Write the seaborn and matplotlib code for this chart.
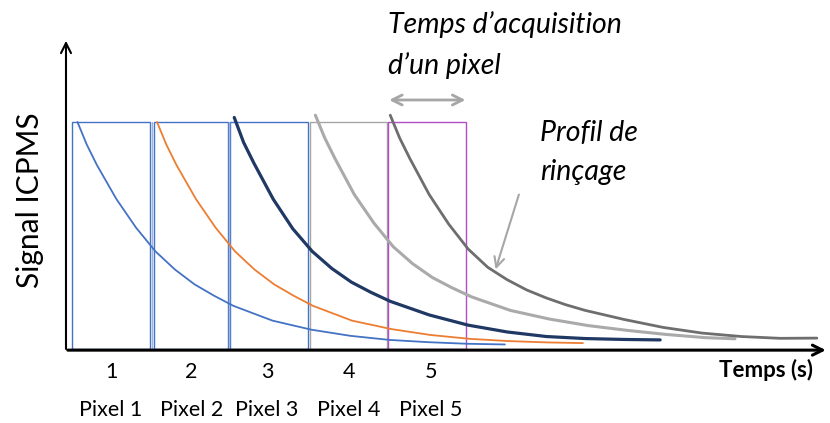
import matplotlib
matplotlib.use("Agg")
import matplotlib.pyplot as plt
from matplotlib.patches import Rectangle
import pandas as pd
import seaborn as sns

# x unit = one pixel acquisition time, y = normalised signal
blue_x = [0.07, 0.19, 0.32, 0.57, 0.82, 1.07, 1.32, 1.57, 1.82, 2.07, 2.57, 3.07, 3.57, 4.07, 4.57, 5.07, 5.55]
blue_y = [1.00, 0.90, 0.81, 0.66, 0.535, 0.43, 0.35, 0.285, 0.235, 0.19, 0.125, 0.085, 0.058, 0.04, 0.03, 0.023, 0.02]

orange_x = [1.09, 1.21, 1.34, 1.59, 1.84, 2.09, 2.34, 2.59, 2.84, 3.09, 3.59, 4.09, 4.59, 5.09, 5.59, 6.09, 6.55]
orange_y = [1.00, 0.90, 0.81, 0.66, 0.535, 0.43, 0.35, 0.285, 0.235, 0.19, 0.125, 0.088, 0.062, 0.045, 0.035, 0.029, 0.026]

navy_x = [2.08, 2.2, 2.33, 2.58, 2.83, 3.08, 3.33, 3.58, 3.83, 4.08, 4.58, 5.08, 5.58, 6.08, 6.58, 7.08, 7.54]
navy_y = [1.02, 0.91, 0.82, 0.66, 0.53, 0.43, 0.355, 0.295, 0.25, 0.21, 0.15, 0.105, 0.075, 0.055, 0.046, 0.042, 0.04]

lgray_x = [3.12, 3.24, 3.37, 3.62, 3.87, 4.12, 4.37, 4.62, 4.87, 5.12, 5.62, 6.12, 6.62, 7.12, 7.62, 8.12, 8.5]
lgray_y = [1.03, 0.93, 0.84, 0.68, 0.555, 0.45, 0.375, 0.315, 0.27, 0.23, 0.17, 0.132, 0.103, 0.082, 0.064, 0.05, 0.045]

dgray_x = [4.08, 4.2, 4.33, 4.58, 4.83, 5.08, 5.33, 5.58, 5.83, 6.08, 6.33, 6.58, 6.83, 7.08, 7.58, 8.08, 8.58, 9.08, 9.55]
dgray_y = [1.03, 0.93, 0.84, 0.68, 0.55, 0.44, 0.36, 0.305, 0.26, 0.225, 0.195, 0.17, 0.15, 0.13, 0.095, 0.07, 0.055, 0.047, 0.048]

pixel_left = [0.0, 1.05, 2.03, 3.05, 4.05]
pixel_right = [1.0, 2.0, 3.03, 4.04, 5.05]
pixel_numbers = ["1", "2", "3", "4", "5"]
pixel_labels = ["Pixel 1", "Pixel 2", "Pixel 3", "Pixel 4", "Pixel 5"]
label_pos = [0.5, 1.53, 2.5, 3.55, 4.6]

sns.set_style("white")
plt.rcParams["font.family"] = ["Lato", "DejaVu Sans"]
plt.rcParams["text.color"] = "black"

fig = plt.figure(figsize=(8.3, 4.23), dpi=100)
ax = fig.add_axes([0, 0, 1, 1])

# pixel windows
rect_colors = ["#4472C4", "#4472C4", "#4472C4", "#A6A6A6", "#B04FC8"]
for x0, x1, c in zip(pixel_left, pixel_right, rect_colors):
    ax.add_patch(Rectangle((x0, 0.0), x1 - x0, 1.0, fill=False, edgecolor=c, lw=1.0, zorder=1))
ax.plot([1.02, 1.02], [0, 1.0], color="#9DB5E2", lw=1.0)
ax.plot([2.01, 2.01], [0, 1.0], color="#9DB5E2", lw=1.0)

# rinsing profiles
curves = [
    (blue_x, blue_y, "#4472C4", 1.3),
    (orange_x, orange_y, "#ED7D31", 1.3),
    (navy_x, navy_y, "#203864", 2.3),
    (lgray_x, lgray_y, "#AAAAAA", 2.2),
    (dgray_x, dgray_y, "#6E6E6E", 2.0),
]
for xs, ys, c, lw in curves:
    df = pd.DataFrame({"t": xs, "signal": ys})
    sns.lineplot(data=df, x="t", y="signal", color=c, lw=lw, estimator=None,
                 solid_joinstyle="round", solid_capstyle="round", ax=ax, zorder=3)

ax.set_xlim(-72 / 78, 758 / 78)
ax.set_ylim(-74 / 227, 349 / 227)
ax.axis("off")

# axes arrows
ax.annotate("", xy=(9.7, -0.005), xytext=(-0.09, -0.005),
            arrowprops=dict(arrowstyle="->", color="black", lw=2.2, mutation_scale=18))
ax.annotate("", xy=(-0.077, 1.37), xytext=(-0.077, -0.012),
            arrowprops=dict(arrowstyle="->", color="black", lw=1.5, mutation_scale=18))

# acquisition time arrow and pointer to the rinse profile
ax.annotate("", xy=(5.08, 1.097), xytext=(4.03, 1.097),
            arrowprops=dict(arrowstyle="<->", color="#A6A6A6", lw=2.0, mutation_scale=18))
ax.annotate("", xy=(5.42, 0.339), xytext=(5.74, 0.692),
            arrowprops=dict(arrowstyle="->", color="#A6A6A6", lw=1.5, mutation_scale=18))

ax.text(4.05, 1.43, "Temps d\u2019acquisition", fontsize=20.5, style="italic", ha="left", va="center")
ax.text(4.05, 1.25, "d\u2019un pixel", fontsize=20.5, style="italic", ha="left", va="center")
ax.text(6.0, 0.952, "Profil de", fontsize=20.5, style="italic", ha="left", va="center")
ax.text(6.0, 0.78, "rinçage", fontsize=20.5, style="italic", ha="left", va="center")

ax.text(-0.538, 0.656, "Signal ICPMS", fontsize=21.5, rotation=90, ha="center", va="center")
ax.text(8.9, -0.093, "Temps (s)", fontsize=16, fontweight="bold", ha="center", va="center")

for p, n, lab in zip(label_pos, pixel_numbers, pixel_labels):
    ax.text(p, -0.101, n, fontsize=15.5, ha="center", va="center")
    ax.text(p, -0.269, lab, fontsize=15.5, ha="center", va="center")

plt.savefig("out.png", dpi=100)
